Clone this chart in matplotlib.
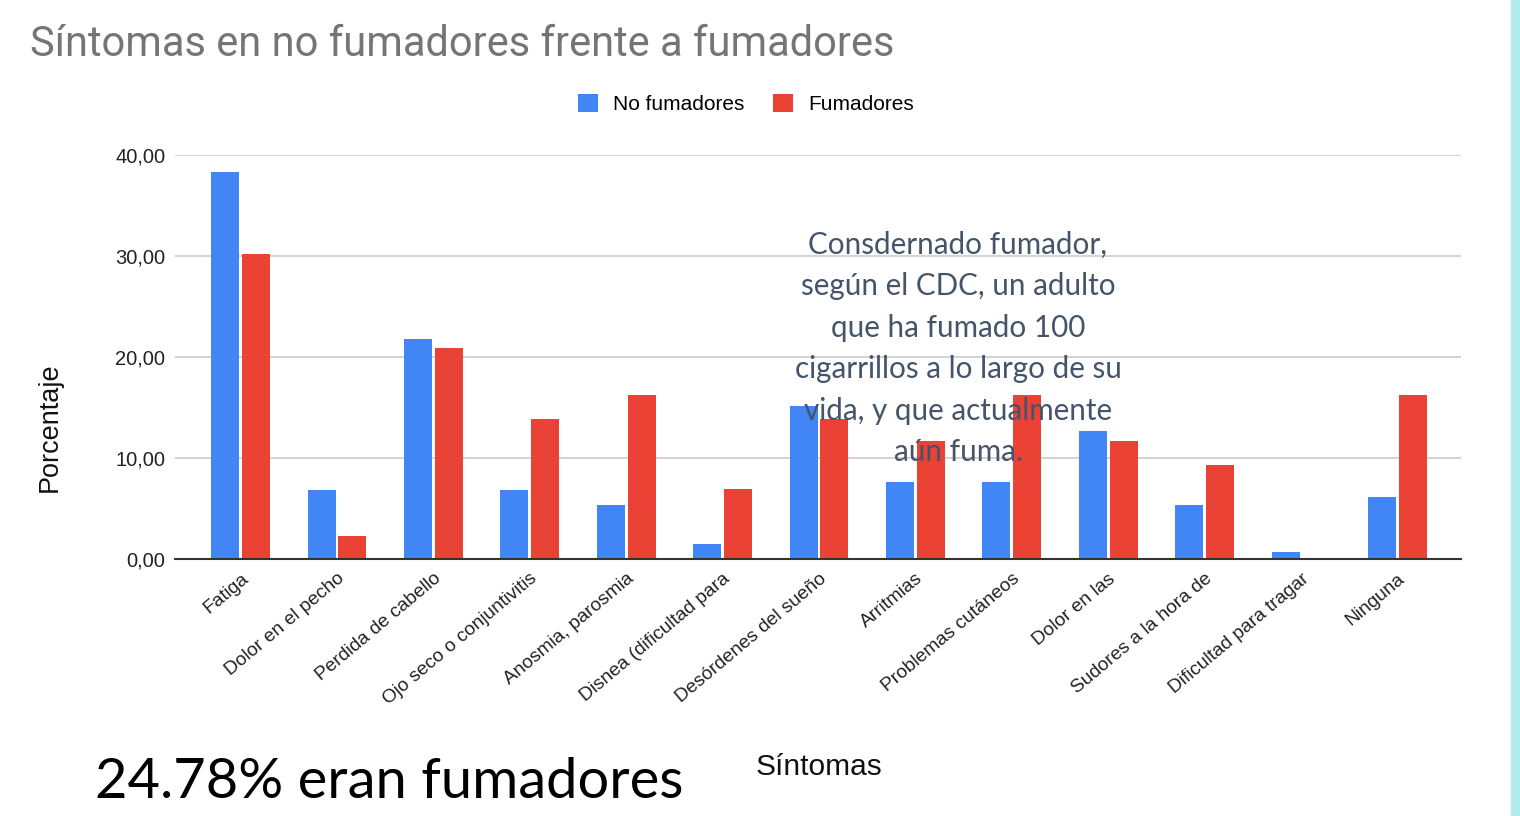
import matplotlib
matplotlib.use("Agg")
import matplotlib.pyplot as plt
import numpy as np
from matplotlib.ticker import FuncFormatter, FixedLocator

categories = ["Fatiga", "Dolor en el pecho", "Perdida de cabello", "Ojo seco o conjuntivitis",
              "Anosmia, parosmia", "Disnea (dificultad para", "Desórdenes del sueño",
              "Arritmias", "Problemas cutáneos", "Dolor en las", "Sudores a la hora de",
              "Dificultad para tragar", "Ninguna"]
no_fumadores = [38.3, 6.8, 21.8, 6.8, 5.3, 1.5, 15.1, 7.6, 7.6, 12.7, 5.3, 0.7, 6.1]
fumadores = [30.2, 2.3, 20.9, 13.9, 16.2, 6.9, 13.9, 11.7, 16.2, 11.7, 9.3, 0.0, 16.2]
series_names = ["No fumadores", "Fumadores"]
y_ticks = [0, 10, 20, 30, 40]

title = "Síntomas en no fumadores frente a fumadores"
note_lines = ["Consdernado fumador,", "según el CDC, un adulto", "que ha fumado 100",
              "cigarrillos a lo largo de su", "vida, y que actualmente", "aún fuma."]
big_text = "24.78% eran fumadores"

BLUE = "#4285f4"
RED = "#ea4335"

W, H = 1520, 816
fig = plt.figure(figsize=(W / 100, H / 100), dpi=100)
fig.patch.set_facecolor("white")

ax = fig.add_axes([175 / W, 1 - 559 / H, (1461 - 175) / W, (559 - 155) / H])
x = np.arange(len(categories))
bw = 0.29
gap = 0.015
ax.bar(x - bw / 2 - gap, no_fumadores, width=bw, color=BLUE, label=series_names[0], zorder=3)
ax.bar(x + bw / 2 + gap, fumadores, width=bw, color=RED, label=series_names[1], zorder=3)

ax.set_xlim(-0.68, len(categories) - 1 + 0.66)
ax.set_ylim(0, 40)
ax.yaxis.set_major_locator(FixedLocator(y_ticks))
ax.yaxis.set_major_formatter(FuncFormatter(lambda v, p: f"{v:.2f}".replace(".", ",")))
ax.grid(axis="y", color="#cccccc", linewidth=1.2, zorder=0)
for s in ["top", "right", "left"]:
    ax.spines[s].set_visible(False)
ax.spines["bottom"].set_color("#333333")
ax.spines["bottom"].set_linewidth(1.5)
ax.spines["bottom"].set_zorder(4)
ax.tick_params(axis="both", length=0)
ax.tick_params(axis="y", pad=7, labelsize=14.5, labelcolor="#222222")
ax.set_xticks(x)
ax.set_xticklabels(categories, rotation=40, ha="right", rotation_mode="anchor",
                   fontsize=13.8, family="Liberation Sans", color="#222222")
for lbl in ax.get_yticklabels():
    lbl.set_family("Liberation Sans")
ax.tick_params(axis="x", pad=8)

ax.set_ylabel("Porcentaje", fontsize=19.5, family="Liberation Sans", color="#111111")
ax.yaxis.set_label_coords((63 - 175) / (1461 - 175), (559 - 427) / (559 - 155))

fig.text(30 / W, 1 - 44 / H, title, fontsize=30, color="#757575", family="Roboto",
         ha="left", va="center")

leg = fig.legend(loc="center", bbox_to_anchor=(746 / W, 1 - 104 / H), ncol=2, frameon=False,
                 prop={"family": "Liberation Sans", "size": 15}, handlelength=0.95,
                 handleheight=0.95, columnspacing=1.4, handletextpad=0.7)

fig.text(819 / W, 1 - 767 / H, "Síntomas", fontsize=21.5, family="Liberation Sans",
         color="#111111", ha="center", va="center")

y0 = 245
for i, line in enumerate(note_lines):
    fig.text(958 / W, 1 - (y0 + i * 41.4) / H, line, fontsize=21.3, family="Lato",
             color="#44546a", ha="center", va="center", zorder=10)

fig.text(95 / W, 1 - 782 / H, big_text, fontsize=40.3, family="Lato", color="#000000",
         ha="left", va="center")

fig.patches.append(plt.Rectangle((1511 / W, 0), 9 / W, 1, transform=fig.transFigure,
                                 color="#b2ebeb", zorder=0))

fig.savefig("out.png", dpi=100, facecolor="white")
